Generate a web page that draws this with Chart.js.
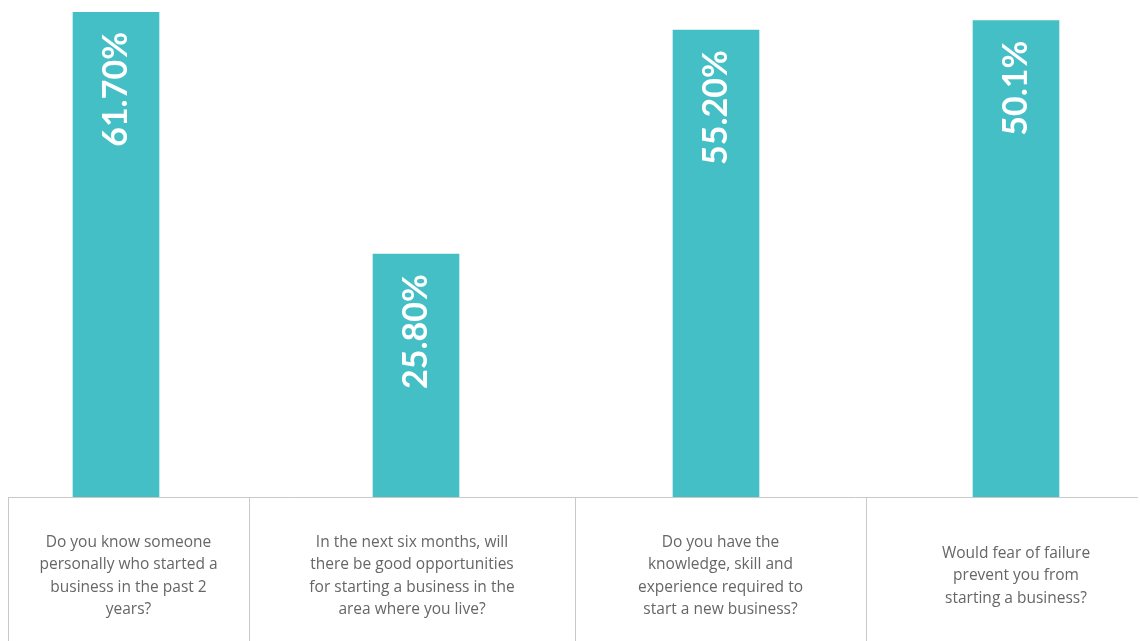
<!DOCTYPE html>
<html lang="en">
<head>
  <meta charset="UTF-8" />
  <title>Entrepreneurship survey</title>
  <script src="https://cdn.jsdelivr.net/npm/chart.js"></script>
  <style>
    html, body {
      margin: 0;
      padding: 0;
      background: #fff;
      overflow: hidden;
    }
    /* chart is wider than the window and cropped on both sides, like the original */
    #chartWrap {
      position: relative;
      width: 1200px;
      height: 641px;
      margin-left: -34px;
    }
  </style>
</head>
<body>
  <div id="chartWrap">
    <canvas id="surveyChart"></canvas>
  </div>

<script>
  // Questions, already broken into lines as they appear under the bars
  const questions = [
    ['Do you know someone', 'personally who started a', 'business in the past 2', 'years?'],
    ['In the next six months, will', 'there be good opportunities', 'for starting a business in the', 'area where you live?'],
    ['Do you have the', 'knowledge, skill and', 'experience required to', 'start a new business?'],
    ['Would fear of failure', 'prevent you from', 'starting a business?']
  ];

  // Labels printed inside the bars
  const valueLabels = ['61.70%', '25.80%', '55.20%', '50.1%'];

  // Bar heights as drawn (they don't follow the printed labels exactly)
  const barHeights = [61.7, 30.9, 59.4, 60.6];

  const yMax = 61.7;

  // Cell borders of the question row (canvas x)
  const cellEdges = [42, 283, 609, 900, 1200];

  const teal = '#45bfc6';

  // Draw the rotated value labels at the top of each bar
  const valueLabelPlugin = {
    id: 'valueLabels',
    afterDatasetsDraw(chart) {
      const ctx = chart.ctx;
      const meta = chart.getDatasetMeta(0);
      ctx.save();
      ctx.fillStyle = '#ffffff';
      ctx.font = 'bold 34px Lato';
      ctx.textAlign = 'right';
      ctx.textBaseline = 'middle';
      meta.data.forEach((bar, i) => {
        ctx.save();
        ctx.translate(bar.x, bar.y + 20);
        ctx.rotate(-Math.PI / 2);
        ctx.fillText(valueLabels[i], 0, 0);
        ctx.restore();
      });
      ctx.restore();
    }
  };

  // Draw the question "table" below the bars
  const questionRowPlugin = {
    id: 'questionRow',
    afterDraw(chart) {
      const ctx = chart.ctx;
      const top = chart.chartArea.bottom;
      const bottom = chart.height;
      ctx.save();
      ctx.strokeStyle = '#c9c9c9';
      ctx.lineWidth = 1;
      ctx.beginPath();
      ctx.moveTo(cellEdges[0], top + 0.5);
      ctx.lineTo(1172, top + 0.5);
      for (let i = 0; i < cellEdges.length - 1; i++) {
        ctx.moveTo(cellEdges[i] + 0.5, top);
        ctx.lineTo(cellEdges[i] + 0.5, bottom);
      }
      ctx.stroke();

      ctx.fillStyle = '#666666';
      ctx.font = '15.5px "Open Sans"';
      ctx.textAlign = 'center';
      ctx.textBaseline = 'middle';
      const lineH = 22.3;
      const midY = 576;
      questions.forEach((lines, i) => {
        const cx = (cellEdges[i] + cellEdges[i + 1]) / 2;
        const startY = midY - (lines.length - 1) * lineH / 2;
        lines.forEach((line, j) => {
          ctx.fillText(line, cx, startY + j * lineH);
        });
      });
      ctx.restore();
    }
  };

  const ctx = document.getElementById('surveyChart').getContext('2d');
  new Chart(ctx, {
    type: 'bar',
    data: {
      labels: questions.map(q => q.join(' ')),
      datasets: [{
        data: barHeights,
        backgroundColor: teal,
        borderWidth: 0,
        barThickness: 86
      }]
    },
    options: {
      responsive: true,
      maintainAspectRatio: false,
      animation: false,
      layout: {
        padding: { top: 12, bottom: 144, left: 0, right: 0 }
      },
      plugins: {
        legend: { display: false },
        tooltip: { enabled: false }
      },
      scales: {
        x: {
          display: false,
          offset: true
        },
        y: {
          display: false,
          min: 0,
          max: yMax
        }
      }
    },
    plugins: [valueLabelPlugin, questionRowPlugin]
  });
</script>
</body>
</html>
